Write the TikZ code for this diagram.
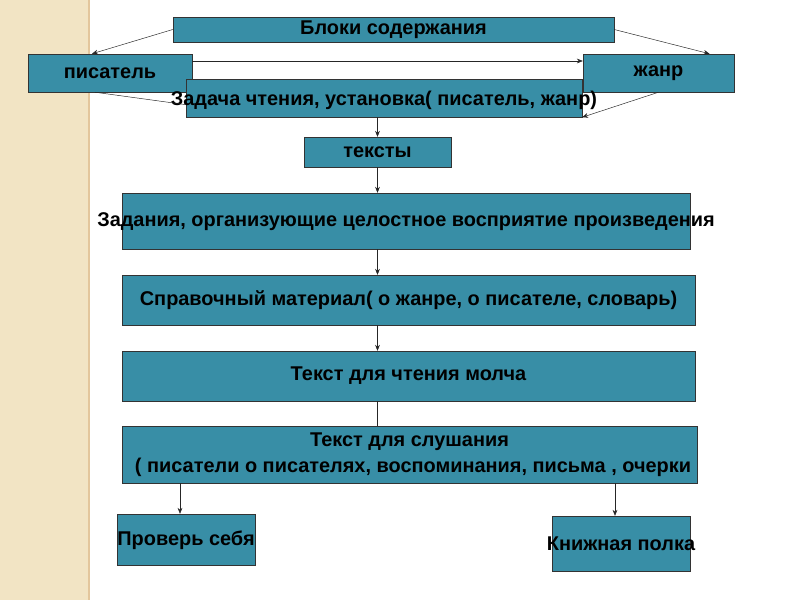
\documentclass[tikz,border=0pt]{standalone}
\usepackage{fontspec}
\setmainfont{Liberation Sans}
\usetikzlibrary{calc,arrows.meta}
\definecolor{boxfill}{RGB}{56,142,166}
\definecolor{band}{RGB}{242,228,196}
\tikzset{>={Stealth[length=5pt,width=4pt]}}
\tikzset{blok/.style={draw=black!80,fill=boxfill,inner sep=0pt},
  txt/.style={font=\bfseries\fontsize{17}{20}\selectfont,align=center},
  arr/.style={->,black!85,thin}}

\begin{document}
\begin{tikzpicture}[x=0.03cm,y=-0.03cm]
    \useasboundingbox (0,0) rectangle (800,600);
    \fill[white] (0,0) rectangle (800,600);
    \fill[band] (0,0) rectangle (88,600);
    \draw[band!70!brown,line width=1pt] (89,0)--(89,600);
      \node[blok,minimum width=13.23cm,minimum height=0.75cm] (bloki) at (393.5,29.5) {};
      \node[txt] at (bloki) {Блоки содержания};
      \node[blok,minimum width=4.92cm,minimum height=1.14cm] (pis) at (110,73) {};
      \node[txt] at (pis) {писатель};
      \node[blok,minimum width=4.53cm,minimum height=1.14cm] (zhanr) at (658.5,73) {};
      \node[txt] at (zhanr) {жанр};
      \node[blok,minimum width=11.88cm,minimum height=1.14cm] (zad) at (384,98) {};
      \node[txt] at (384,100) {Задача чтения, установка( писатель, жанр)};
      \node[blok,minimum width=4.41cm,minimum height=0.9cm] (teksty) at (377.5,152) {};
      \node[txt] at (teksty) {тексты};
      \node[blok,minimum width=17.04cm,minimum height=1.68cm] (zadan) at (406,221) {};
      \node[txt] at (406,222) {Задания, организующие целостное восприятие произведения};
      \node[blok,minimum width=17.19cm,minimum height=1.5cm] (sprav) at (408.5,300) {};
      \node[txt] at (sprav) {Справочный материал( о жанре, о писателе, словарь)};
      \node[blok,minimum width=17.19cm,minimum height=1.5cm] (chten) at (408.5,376) {};
      \node[txt] at (chten) {Текст для чтения молча};
      \node[blok,minimum width=17.25cm,minimum height=1.71cm] (slush) at (409.5,454.5) {};
      \node[txt] at (409.5,442) {Текст для слушания};
      \node[txt] at (413,467) {( писатели о писателях, воспоминания, письма , очерки};
      \node[blok,minimum width=4.14cm,minimum height=1.53cm] (prov) at (186,539.5) {};
      \node[txt] at (186,540) {Проверь себя};
      \node[blok,minimum width=4.14cm,minimum height=1.65cm] (knizh) at (621,543.5) {};
      \node[txt] at (621,544) {Книжная полка};
      \draw[arr] (bloki.west) -- ([xshift=-0.54cm]pis.north);
      \draw[arr] (bloki.east) -- ([xshift=1.53cm]zhanr.north);
      \draw[arr] ([yshift=.36cm]pis.east) -- ([yshift=.36cm]zhanr.west);
      \draw[black!85,thin] ([xshift=-0.45cm]pis.south) -- ([yshift=-.2cm]zad.west);
      \draw[arr] (zhanr.south) -- (zad.south east);
      \draw[arr] (teksty.north |- zad.south) -- (teksty.north);
      \draw[arr] (teksty.south) -- (teksty.south |- zadan.north);
      \draw[arr] (teksty.south |- zadan.south) -- (teksty.south |- sprav.north);
      \draw[arr] (teksty.south |- sprav.south) -- (teksty.south |- chten.north);
      \draw[black!85,thin] (teksty.south |- chten.south) -- (teksty.south |- slush.north);
      \draw[arr] ([xshift=-0.18cm]prov.north |- slush.south) -- ([xshift=-0.18cm]prov.north);
      \draw[arr] ([xshift=-0.18cm]knizh.north |- slush.south) -- ([xshift=-0.18cm]knizh.north);
\end{tikzpicture}
\end{document}
